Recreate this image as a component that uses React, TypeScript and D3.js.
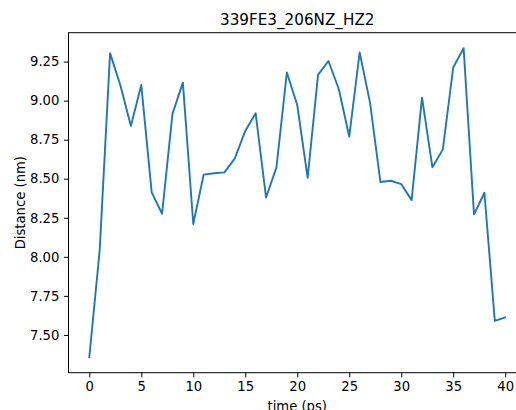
import React, { useEffect, useRef } from "react";
import * as d3 from "d3";

// distance per frame
const times = d3.range(0, 41);
const distances = [
  7.357, 8.043, 9.304, 9.095, 8.838, 9.1, 8.413, 8.276, 8.915, 9.115,
  8.21, 8.526, 8.535, 8.541, 8.63, 8.806, 8.919, 8.38, 8.573, 9.18,
  8.972, 8.506, 9.165, 9.254, 9.073, 8.77, 9.308, 8.987, 8.479, 8.487,
  8.466, 8.363, 9.019, 8.573, 8.688, 9.212, 9.336, 8.272, 8.41, 7.59,
  7.612,
];
const xTicks = [0, 5, 10, 15, 20, 25, 30, 35, 40];
const yTicks = [7.5, 7.75, 8.0, 8.25, 8.5, 8.75, 9.0, 9.25];

const App = () => {
  const ref = useRef<SVGSVGElement>(null);

  useEffect(() => {
    document.body.style.margin = "0";
    const svg = d3.select(ref.current);
    svg.selectAll("*").remove();

    const left = 68.5;
    const right = 526;
    const top = 32.7;
    const bottom = 372.7;
    const font = "DejaVu Sans";

    // matplotlib-style 5% margins
    const [ymin, ymax] = d3.extent(distances) as [number, number];
    const pad = (ymax - ymin) * 0.05;
    const x = d3.scaleLinear().domain([-2, 42]).range([left, right]);
    const y = d3.scaleLinear().domain([ymin - pad, ymax + pad]).range([bottom, top]);

    const line = d3
      .line<number>()
      .x((d, i) => x(times[i]))
      .y((d) => y(d));

    svg
      .append("path")
      .datum(distances)
      .attr("d", line)
      .attr("fill", "none")
      .attr("stroke", "#1f77b4")
      .attr("stroke-width", 1.9)
      .attr("stroke-linejoin", "round")
      .attr("stroke-linecap", "square");

    // spines
    svg
      .append("rect")
      .attr("x", left)
      .attr("y", top)
      .attr("width", right - left)
      .attr("height", bottom - top)
      .attr("fill", "none")
      .attr("stroke", "#000")
      .attr("stroke-width", 1);

    // x axis
    const xa = svg.append("g").attr("transform", `translate(0,${bottom})`);
    xa.call(
      d3
        .axisBottom(x)
        .tickValues(xTicks)
        .tickSize(4.6)
        .tickPadding(4.5)
        .tickFormat(d3.format("d"))
    );
    xa.select(".domain").remove();

    // y axis
    const ya = svg.append("g").attr("transform", `translate(${left},0)`);
    ya.call(
      d3
        .axisLeft(y)
        .tickValues(yTicks)
        .tickSize(4.6)
        .tickPadding(4.5)
        .tickFormat(d3.format(".2f"))
    );
    ya.select(".domain").remove();

    svg
      .selectAll(".tick text")
      .attr("font-family", font)
      .attr("font-size", 13.2)
      .attr("fill", "#000");
    svg.selectAll(".tick line").attr("stroke", "#000").attr("stroke-width", 1);

    svg
      .append("text")
      .attr("x", (left + right) / 2)
      .attr("y", 25.3)
      .attr("text-anchor", "middle")
      .attr("font-family", font)
      .attr("font-size", 15.2)
      .text("339FE3_206NZ_HZ2");

    svg
      .append("text")
      .attr("x", (left + right) / 2)
      .attr("y", 410.5)
      .attr("text-anchor", "middle")
      .attr("font-family", font)
      .attr("font-size", 13.2)
      .text("time (ps)");

    svg
      .append("text")
      .attr("transform", `translate(24.5,${(top + bottom) / 2}) rotate(-90)`)
      .attr("text-anchor", "middle")
      .attr("font-family", font)
      .attr("font-size", 13.2)
      .text("Distance (nm)");
  }, []);

  return (
    <svg
      ref={ref}
      width={516}
      height={410}
      style={{ display: "block", background: "#fff" }}
    />
  );
};

export default App;
